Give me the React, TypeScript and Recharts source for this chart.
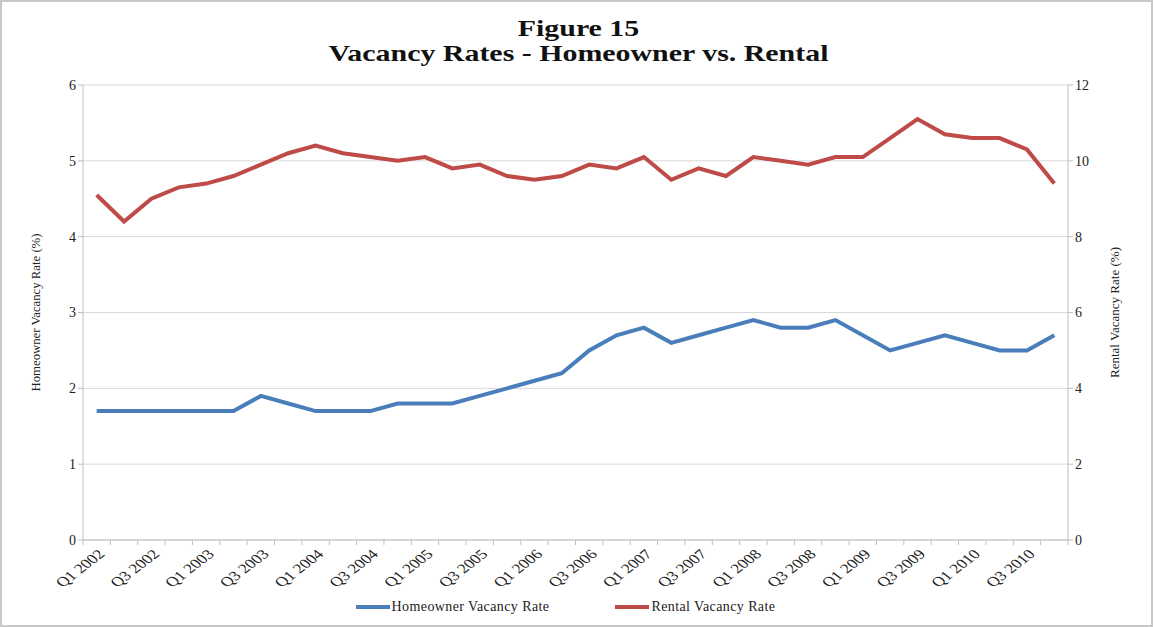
import React from 'react';
import { LineChart, Line, XAxis, YAxis, CartesianGrid, Legend, Label } from 'recharts';

const quarters = [
  'Q1 2002', 'Q2 2002', 'Q3 2002', 'Q4 2002',
  'Q1 2003', 'Q2 2003', 'Q3 2003', 'Q4 2003',
  'Q1 2004', 'Q2 2004', 'Q3 2004', 'Q4 2004',
  'Q1 2005', 'Q2 2005', 'Q3 2005', 'Q4 2005',
  'Q1 2006', 'Q2 2006', 'Q3 2006', 'Q4 2006',
  'Q1 2007', 'Q2 2007', 'Q3 2007', 'Q4 2007',
  'Q1 2008', 'Q2 2008', 'Q3 2008', 'Q4 2008',
  'Q1 2009', 'Q2 2009', 'Q3 2009', 'Q4 2009',
  'Q1 2010', 'Q2 2010', 'Q3 2010', 'Q4 2010',
];

const homeowner = [
  1.7, 1.7, 1.7, 1.7,
  1.7, 1.7, 1.9, 1.8,
  1.7, 1.7, 1.7, 1.8,
  1.8, 1.8, 1.9, 2.0,
  2.1, 2.2, 2.5, 2.7,
  2.8, 2.6, 2.7, 2.8,
  2.9, 2.8, 2.8, 2.9,
  2.7, 2.5, 2.6, 2.7,
  2.6, 2.5, 2.5, 2.7,
];

const rental = [
  9.1, 8.4, 9.0, 9.3,
  9.4, 9.6, 9.9, 10.2,
  10.4, 10.2, 10.1, 10.0,
  10.1, 9.8, 9.9, 9.6,
  9.5, 9.6, 9.9, 9.8,
  10.1, 9.5, 9.8, 9.6,
  10.1, 10.0, 9.9, 10.1,
  10.1, 10.6, 11.1, 10.7,
  10.6, 10.6, 10.3, 9.4,
];

const leftTicks = [0, 1, 2, 3, 4, 5, 6];
const rightTicks = [0, 2, 4, 6, 8, 10, 12];

const data = quarters.map((q, i) => ({ quarter: q, homeowner: homeowner[i], rental: rental[i] }));

const BLUE = '#4a7ebb';
const RED = '#be4b48';
const AXIS = '#bfbfbf';
const FONT = '"Liberation Serif", "Times New Roman", serif';

const W = 1153;
const H = 627;
const PLOT_LEFT = 83;
const PLOT_RIGHT = 1068;
const BAND = (PLOT_RIGHT - PLOT_LEFT) / quarters.length;

function QuarterTick(props: any) {
  const { x, y, payload, index } = props;
  const i = payload?.index ?? index;
  const last = i === quarters.length - 1;
  const ax = x + 9;
  const ay = y + 15;
  return (
    <g>
      <line x1={x - BAND / 2} x2={x - BAND / 2} y1={y} y2={y + 5} stroke={AXIS} />
      {last && <line x1={x + BAND / 2} x2={x + BAND / 2} y1={y} y2={y + 5} stroke={AXIS} />}
      {i % 2 === 0 && (
        <text
          x={0}
          y={0}
          textAnchor="end"
          transform={`translate(${ax},${ay}) scale(1.3,1) rotate(-45)`}
          fontSize={13.5}
          fontFamily={FONT}
          fill="#222"
        >
          {payload.value}
        </text>
      )}
    </g>
  );
}

function AxisTitle(props: any) {
  const { viewBox, value, cx, length } = props;
  const cy = viewBox.y + viewBox.height / 2;
  return (
    <text
      x={cx}
      y={cy}
      transform={`rotate(-90, ${cx}, ${cy})`}
      textAnchor="middle"
      dominantBaseline="central"
      fontSize={13}
      fontFamily={FONT}
      fill="#222"
      textLength={length}
      lengthAdjust="spacingAndGlyphs"
    >
      {value}
    </text>
  );
}

function LegendContent() {
  const items = [
    { label: 'Homeowner Vacancy Rate', color: BLUE },
    { label: 'Rental Vacancy Rate', color: RED },
  ];
  return (
    <div
      style={{
        display: 'flex',
        justifyContent: 'center',
        gap: 66,
        fontFamily: FONT,
        fontSize: 14,
        letterSpacing: 0.4,
        paddingRight: 20,
        color: '#222',
      }}
    >
      {items.map((it) => (
        <div key={it.label} style={{ display: 'flex', alignItems: 'center' }}>
          <span style={{ display: 'inline-block', width: 34, height: 4, background: it.color, marginRight: 2 }} />
          <span>{it.label}</span>
        </div>
      ))}
    </div>
  );
}

export default function App() {
  return (
    <div
      style={{
        position: 'absolute',
        left: 0,
        top: 0,
        width: W,
        height: H,
        background: '#fff',
        boxSizing: 'border-box',
        border: '2px solid #c8c8c8',
      }}
    >
      <div
        style={{
          position: 'absolute',
          left: 0,
          width: W,
          top: 14,
          textAlign: 'center',
          fontFamily: FONT,
          fontWeight: 'bold',
          fontSize: 23,
          lineHeight: '25px',
          color: '#111',
        }}
      >
        <div style={{ transform: 'scaleX(1.3)' }}>Figure 15</div>
        <div style={{ transform: 'scaleX(1.3)' }}>Vacancy Rates - Homeowner vs. Rental</div>
      </div>
      <div style={{ position: 'absolute', left: -2, top: -2 }}>
        <LineChart
          width={W}
          height={H}
          data={data}
          margin={{ top: 85, right: 35, left: 33, bottom: 9 }}
        >
          <CartesianGrid vertical={false} stroke="#d9d9d9" yAxisId="left" />
          <XAxis
            dataKey="quarter"
            interval={0}
            tickSize={0}
            tickMargin={0}
            tickLine={false}
            padding={{ left: BAND / 2, right: BAND / 2 }}
            axisLine={{ stroke: AXIS }}
            tick={<QuarterTick />}
            height={62}
          />
          <YAxis
            yAxisId="left"
            domain={[0, 6]}
            ticks={leftTicks}
            width={50}
            axisLine={{ stroke: AXIS }}
            tickLine={{ stroke: AXIS }}
            tickSize={5}
            tick={{ fill: '#222', fontSize: 14, fontFamily: FONT }}
          >
            <Label content={(p: any) => <AxisTitle {...p} value="Homeowner Vacancy Rate (%)" cx={35} length={158} />} />
          </YAxis>
          <YAxis
            yAxisId="right"
            orientation="right"
            domain={[0, 12]}
            ticks={rightTicks}
            width={50}
            axisLine={{ stroke: AXIS }}
            tickLine={{ stroke: AXIS }}
            tickSize={5}
            tick={{ fill: '#222', fontSize: 14, fontFamily: FONT }}
          >
            <Label content={(p: any) => <AxisTitle {...p} value="Rental Vacancy Rate (%)" cx={1114} length={131} />} />
          </YAxis>
          <Legend verticalAlign="bottom" content={<LegendContent />} wrapperStyle={{ bottom: 12 }} />
          <Line
            yAxisId="left"
            type="linear"
            dataKey="homeowner"
            name="Homeowner Vacancy Rate"
            stroke={BLUE}
            strokeWidth={4}
            dot={false}
            isAnimationActive={false}
          />
          <Line
            yAxisId="right"
            type="linear"
            dataKey="rental"
            name="Rental Vacancy Rate"
            stroke={RED}
            strokeWidth={4}
            dot={false}
            isAnimationActive={false}
          />
        </LineChart>
      </div>
    </div>
  );
}
